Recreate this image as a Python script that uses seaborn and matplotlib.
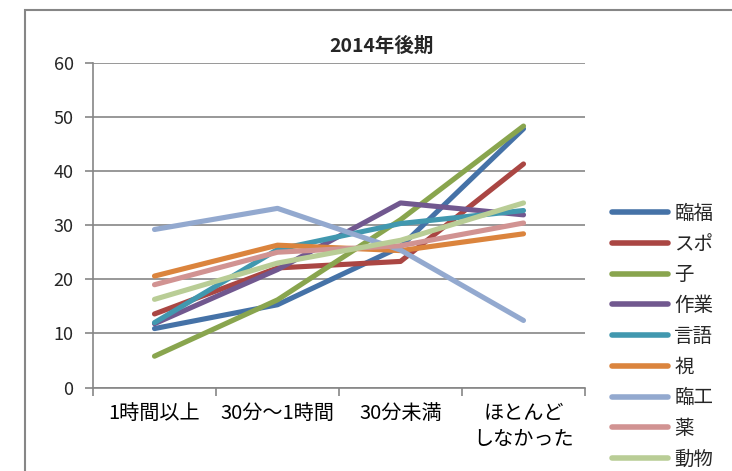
import matplotlib
matplotlib.use("Agg")
import matplotlib.pyplot as plt
import matplotlib.patches as mpatches
from matplotlib.ticker import FixedLocator, NullFormatter
import seaborn as sns
import pandas as pd

categories = ["1時間以上", "30分～1時間", "30分未満", "ほとんど\nしなかった"]
series_names = ["臨福", "スポ", "子", "作業", "言語", "視", "臨工", "薬", "動物"]
v_rinpuku = [10.9, 15.3, 26.0, 47.8]
v_supo = [13.6, 22.1, 23.3, 41.3]
v_ko = [5.8, 16.2, 31.0, 48.3]
v_sagyo = [11.8, 21.8, 34.1, 31.9]
v_gengo = [12.0, 25.5, 30.3, 32.7]
v_shi = [20.6, 26.3, 25.3, 28.4]
v_rinko = [29.2, 33.1, 25.4, 12.4]
v_yaku = [19.0, 25.0, 26.2, 30.4]
v_dobutsu = [16.3, 23.0, 27.2, 34.1]
colors = ["#4572A7", "#AA4643", "#89A54E", "#71588F", "#4198AF",
          "#DB843D", "#93A9CF", "#D19392", "#B9CD96"]
y_ticks = [0, 10, 20, 30, 40, 50, 60]
title = "2014年後期"

all_vals = [v_rinpuku, v_supo, v_ko, v_sagyo, v_gengo, v_shi, v_rinko, v_yaku, v_dobutsu]
rows = []
for name, vals in zip(series_names, all_vals):
    for i, v in enumerate(vals):
        rows.append({"pos": i, "value": v, "series": name})
df = pd.DataFrame(rows)

sns.set_theme(style="white")
plt.rcParams['font.family'] = ['Noto Sans CJK JP', 'DejaVu Sans']

W, H = 732, 471
fig = plt.figure(figsize=(W / 100, H / 100), dpi=100)
ax = fig.add_axes([93 / W, 1 - 387.6 / H, (585 - 93) / W, (387.6 - 62.7) / H])

# outer chart border
fig.patches.append(mpatches.Rectangle((25 / W, -0.1), 1.2, (H - 10) / H + 0.1,
                                      transform=fig.transFigure, fill=False,
                                      edgecolor="#868686", linewidth=1.5))

sns.lineplot(data=df, x="pos", y="value", hue="series", hue_order=series_names,
             palette=colors, linewidth=3.7, ax=ax, legend=True, sort=False)
for ln in ax.get_lines():
    ln.set_solid_capstyle("round")
    ln.set_solid_joinstyle("round")

ax.set_xlim(-0.5, 3.5)
ax.set_ylim(0, 60)
ax.set_yticks(y_ticks)
ax.set_yticklabels([str(t) for t in y_ticks])
ax.yaxis.grid(True, color="#868686", linewidth=1.2)
ax.set_axisbelow(True)
ax.set_xlabel("")
ax.set_ylabel("")

ax.set_xticks(range(len(categories)))
ax.set_xticklabels(categories, fontsize=14.5, linespacing=1.35, va="top")
ax.tick_params(axis="x", which="major", length=0, pad=11, colors="#000000")
ax.xaxis.set_minor_locator(FixedLocator([-0.5, 0.5, 1.5, 2.5, 3.5]))
ax.xaxis.set_minor_formatter(NullFormatter())
ax.tick_params(axis="x", which="minor", length=6, width=1.2, color="#868686", bottom=True)
ax.tick_params(axis="y", length=6, width=1.2, color="#868686", pad=8, labelsize=13,
               left=True)

for s in ["top", "right"]:
    ax.spines[s].set_visible(False)
for s in ["left", "bottom"]:
    ax.spines[s].set_color("#868686")
    ax.spines[s].set_linewidth(1.2)

handles, labels = ax.get_legend_handles_labels()
ax.get_legend().remove()
for h in handles:
    h.set_linewidth(4)
    h.set_solid_capstyle("round")
fig.legend(handles, labels, loc="upper left", bbox_to_anchor=(612 / W, 1 - 203 / H),
           frameon=False, fontsize=14, handlelength=2.9, handletextpad=0.3,
           labelspacing=0.5, borderpad=0, borderaxespad=0)

fig.text(381 / W, 1 - 46 / H, title, ha="center", va="center", fontsize=14,
         fontweight="bold")

fig.savefig("out.png", dpi=100)
